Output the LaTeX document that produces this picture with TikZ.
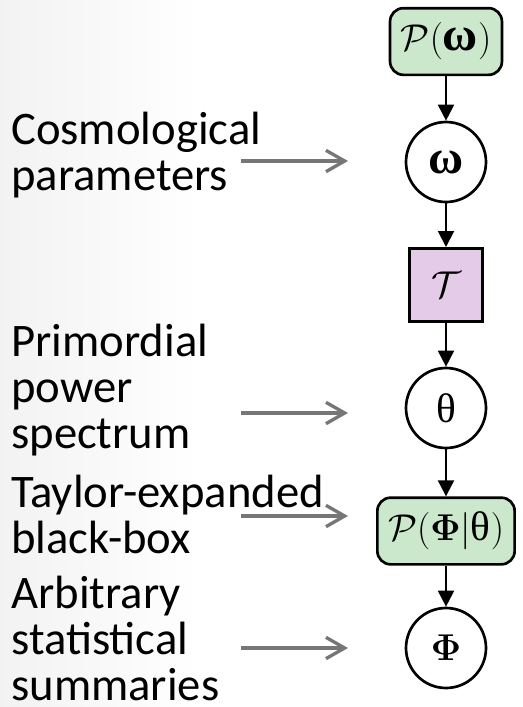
\RequirePackage{fix-cm}
\documentclass[tikz,border=0pt]{standalone}
\usepackage[no-math]{fontspec}
\setmainfont{Carlito}
\newfontfamily\grkfont{Liberation Serif}
\usepackage{amsmath}
\usetikzlibrary{arrows.meta}
\definecolor{mygreen}{RGB}{204,232,204}
\definecolor{mypurple}{RGB}{228,204,232}
\definecolor{mygray}{RGB}{118,118,118}
\newcommand{\bomega}{\text{\grkfont\bfseries\fontsize{36}{36}\selectfont ω}}
\newcommand{\rtheta}{\text{\grkfont\fontsize{31}{31}\selectfont θ}}

\begin{document}
\begin{tikzpicture}[x=0.75pt,y=-0.75pt,
  pdist/.style={draw,line width=2pt,rounded corners=10pt,fill=mygreen,minimum height=50pt,inner xsep=8pt,font=\fontsize{28}{30}\selectfont},
  var/.style={draw,circle,line width=2pt,minimum size=60pt,inner sep=0pt,font=\fontsize{28}{30}\selectfont},
  func/.style={draw,line width=2pt,fill=mypurple,minimum size=55pt,inner sep=0pt,font=\fontsize{28}{30}\selectfont},
  flow/.style={-{Triangle[length=12pt,width=12pt]},line width=1.5pt},
  note/.style={anchor=base west,align=left,inner sep=0pt,font=\fontsize{35}{34.5}\selectfont},
  pointer/.style={-{Straight Barb[length=14pt,width=16pt]},line width=2.5pt,mygray}]

\useasboundingbox (0,0) rectangle (523,707);
\shade[left color=black!5,right color=white] (0,0) rectangle (200,707);

% graphical model
\node[pdist] (pomega) at (446,41.5) {$\mathcal{P}(\bomega)$};
\node[var] (omega) at (446,162) {$\bomega$};
\node[func] (trans) at (446,285) {$\mathcal{T}$};
\node[var] (theta) at (446,408) {$\rtheta$};
\node[pdist] (pphi) at (446,531) {$\mathcal{P}(\mathbf{\Phi}|\rtheta)$};
\node[var] (phi) at (446,648) {$\mathbf{\Phi}$};

\draw[flow] (pomega) -- (omega);
\draw[flow] (omega) -- (trans);
\draw[flow] (trans) -- (theta);
\draw[flow] (theta) -- (pphi);
\draw[flow] (pphi) -- (phi);

% labels on the left (base = last line)
\node[note] (cosmo) at (11,190) {Cosmological\\parameters};
\node[note] (primo) at (11,448) {Primordial\\power\\spectrum};
\node[note] (taylor) at (11,553) {Taylor-expanded\\black-box};
\node[note] (arbi) at (11,700) {Arbitrary\\statistical\\summaries};

\foreach \y/\n in {161/cosmo,413/primo,516/taylor,648/arbi}{
  \coordinate (\n-from) at (241,\y);
  \coordinate (\n-to) at (348,\y);
  \draw[pointer] (\n-from) -- (\n-to);
}
\end{tikzpicture}
\end{document}
